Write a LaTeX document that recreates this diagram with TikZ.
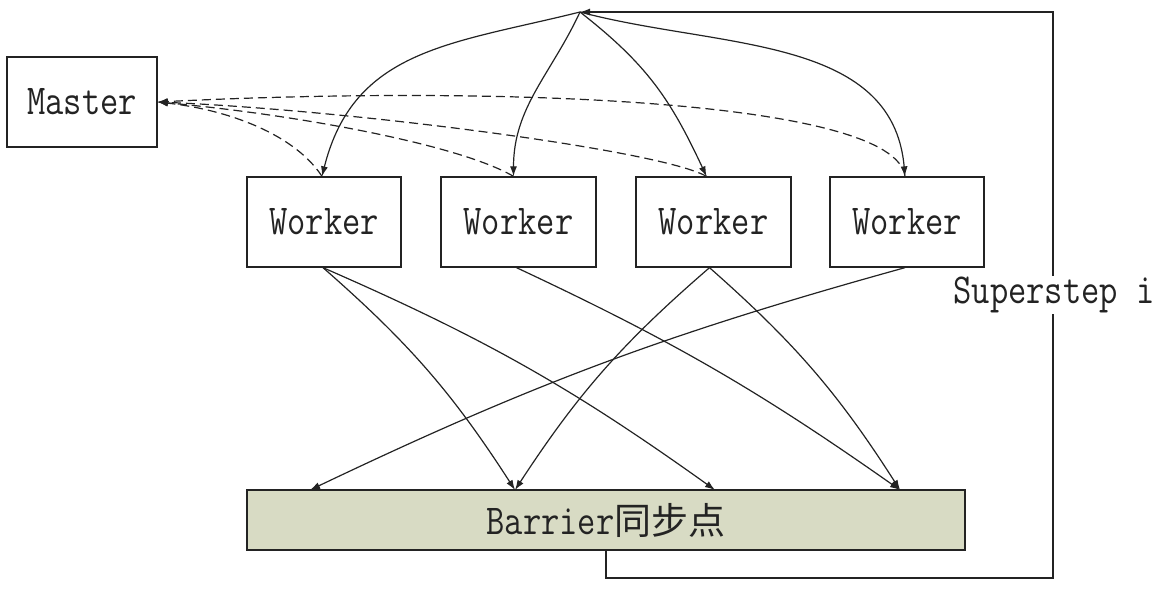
\documentclass[tikz,border=0pt]{standalone}
\usepackage{fontspec}
\usepackage{graphicx}
\usetikzlibrary{arrows.meta}
\newfontfamily\cjkfont{Noto Sans CJK SC}
\newcommand{\tallword}[1]{\scalebox{1}[1.2]{\ttfamily #1}}
\definecolor{barrierfill}{RGB}{216,219,196}
\definecolor{inkc}{RGB}{35,35,35}
\tikzset{
  box/.style={draw=inkc, line width=1.3pt, minimum width=150pt, minimum height=90pt,
    inner sep=0pt, font=\fontsize{35.5}{36}\selectfont, text=inkc},
  flow/.style={draw=inkc, line width=1.2pt, -{Latex[length=10pt,width=7pt]}},
  report/.style={flow, dash pattern=on 9pt off 5pt},
  loopline/.style={draw=inkc, line width=1.3pt, -{Latex[length=10pt,width=7pt]}},
  steplabel/.style={fill=white, inner sep=1pt, font=\fontsize{35.5}{36}\selectfont, text=inkc}
}
\begin{document}
\begin{tikzpicture}[x=1pt,y=1pt]
\useasboundingbox (0,-590) rectangle (1166,0);
% nodes
\node[box] (M) at (82,-102) {\tallword{Master}};
\node[box, minimum width=154pt] (W1) at (324,-222) {\tallword{Worker}};
\node[box, minimum width=155pt] (W2) at (518.5,-222) {\tallword{Worker}};
\node[box, minimum width=155pt] (W3) at (713.5,-222) {\tallword{Worker}};
\node[box, minimum width=154pt] (W4) at (907,-222) {\tallword{Worker}};
\node[box, fill=barrierfill, minimum width=718pt, minimum height=60pt] (B) at (606,-520)
  {\tallword{Barrier}{\fontsize{37}{37}\selectfont\cjkfont 同步点}};
% named points
\coordinate (T) at (580,-12);
\coordinate (C) at (1053,-578);
\coordinate (t1) at ([xshift=-2pt]W1.north);
\coordinate (t2) at ([xshift=-5pt]W2.north);
\coordinate (t3) at ([xshift=-7pt]W3.north);
\coordinate (t4) at ([xshift=-2pt]W4.north);
\coordinate (s1) at ([xshift=-1pt]W1.south);
\coordinate (s2) at ([xshift=-2pt]W2.south);
\coordinate (s3) at ([xshift=-4pt]W3.south);
\coordinate (s4) at ([xshift=-2pt]W4.south);
\coordinate (b1) at (310,-490);
\coordinate (b2) at (515,-490);
\coordinate (b3) at (715,-490);
\coordinate (b4) at (900,-490);
% superstep loop
\draw[loopline] (B.south) |- (C) |- (T);
\node[steplabel] (S) at (1054,-295) {\tallword{Superstep i}};
% top point to workers
\draw[flow] (T) to[out=194,in=76,looseness=1.1] (t1);
\draw[flow] (T) to[out=245,in=90] (t2);
\draw[flow] (T) to[out=-38,in=115,looseness=1.05] (t3);
\draw[flow] (T) to[out=-15,in=95] (t4);
% workers report to master
\draw[report] (t1) .. controls (295,-135) and (230,-110) .. (M.east);
\draw[report] (t2) .. controls (460,-145) and (300,-115) .. (M.east);
\draw[report] (t3) .. controls (660,-150) and (350,-110) .. (M.east);
\draw[report] (t4) .. controls (895,-100) and (500,-85) .. (M.east);
% workers to barrier
\draw[flow] (s1) to[bend left=8] (b2);
\draw[flow] (s1) to[bend left=6] (b3);
\draw[flow] (s2) to[bend left=5] (b4);
\draw[flow] (s3) to[bend right=8] (b2);
\draw[flow] (s3) to[bend left=8] (b4);
\draw[flow] (s4) to[bend right=5] (b1);
\end{tikzpicture}
\end{document}
